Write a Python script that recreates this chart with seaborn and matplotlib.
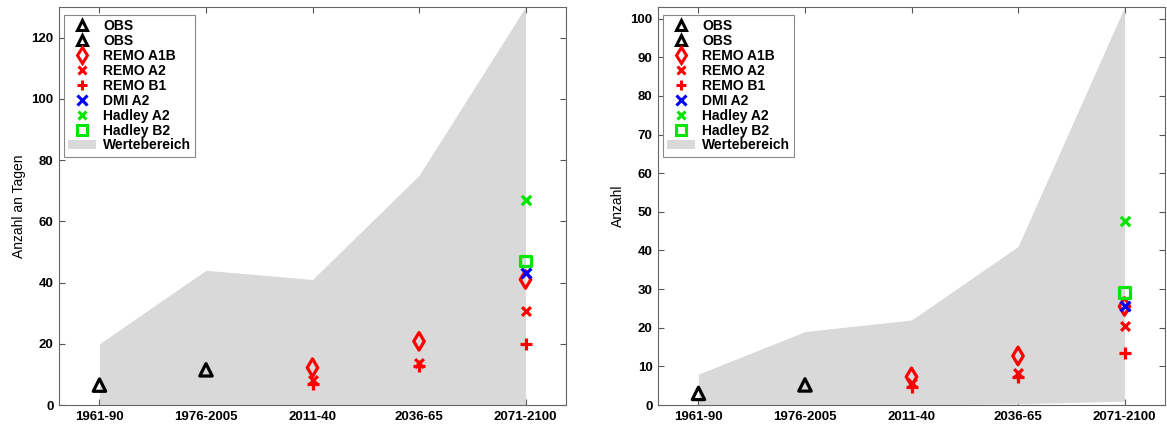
import numpy as np
import pandas as pd
import matplotlib
matplotlib.use("Agg")
import matplotlib.pyplot as plt
from matplotlib.lines import Line2D
from matplotlib.patches import Patch
import seaborn as sns

# Zeitraeume
periods = ["1961-90", "1976-2005", "2011-40", "2036-65", "2071-2100"]

# --- Linkes Diagramm: Anzahl an Tagen ---
left_range_low = [0, 0, 0, 0, 0]
left_range_high = [20, 44, 41, 75, 130]
left_obs1 = {"1961-90": 6.5}
left_obs2 = {"1976-2005": 11.5}
left_remo_a1b = {"2011-40": 12.2, "2036-65": 20.8, "2071-2100": 41}
left_remo_a2 = {"2011-40": 8.2, "2036-65": 13.6, "2071-2100": 30.8}
left_remo_b1 = {"2011-40": 6.8, "2036-65": 12.8, "2071-2100": 20}
left_dmi_a2 = {"2071-2100": 43}
left_hadley_a2 = {"2071-2100": 66.8}
left_hadley_b2 = {"2071-2100": 47}

# --- Rechtes Diagramm: Anzahl ---
right_range_low = [0, 0, 0, 0.3, 1]
right_range_high = [8, 19, 22, 41, 103]
right_obs1 = {"1961-90": 3}
right_obs2 = {"1976-2005": 5.2}
right_remo_a1b = {"2011-40": 7.3, "2036-65": 12.7, "2071-2100": 25.5}
right_remo_a2 = {"2011-40": 5.8, "2036-65": 8.3, "2071-2100": 20.4}
right_remo_b1 = {"2011-40": 4.6, "2036-65": 7.3, "2071-2100": 13.4}
right_dmi_a2 = {"2071-2100": 25.6}
right_hadley_a2 = {"2071-2100": 47.5}
right_hadley_b2 = {"2071-2100": 29.1}

RED, BLUE, GREEN, GRAY = "#ff0000", "#0000ff", "#00e600", "#d9d9d9"

sns.set_theme(style="white")
plt.rcParams["font.family"] = ["Liberation Sans", "DejaVu Sans"]
plt.rcParams["text.color"] = "black"
plt.rcParams["axes.labelcolor"] = "black"
plt.rcParams["xtick.labelcolor"] = "black"
plt.rcParams["ytick.labelcolor"] = "black"

# Darstellung je Reihe: (Beschriftung, Marker, Farbe, Flaeche, Legendengroesse, offen?)
styles = [
    ("OBS", "^", "black", 80, 7.5, True),
    ("OBS", "^", "black", 80, 7.5, True),
    ("REMO A1B", "d", RED, 80, 8, True),
    ("REMO A2", "x", RED, 40, 5.5, False),
    ("REMO B1", "+", RED, 80, 7.5, False),
    ("DMI A2", "x", BLUE, 50, 6.5, False),
    ("Hadley A2", "x", GREEN, 45, 5.5, False),
    ("Hadley B2", "s", GREEN, 60, 6.5, True),
]


def draw_panel(ax, low, high, series, ymax, yticks, ylabel):
    ax.fill_between(periods, low, high, color=GRAY, linewidth=0, zorder=1)
    handles = []
    for (label, marker, color, size, lsize, hollow), values in zip(styles, series):
        df = pd.DataFrame({"Zeitraum": list(values.keys()),
                           "Wert": list(values.values())})
        if hollow:
            sns.scatterplot(data=df, x="Zeitraum", y="Wert", ax=ax, marker=marker,
                            s=size, facecolors="none", edgecolor=color,
                            color=color, linewidth=2.3, zorder=3, legend=False)
            h = Line2D([], [], linestyle="", marker=marker, markersize=lsize,
                       markerfacecolor="none", markeredgecolor=color, markeredgewidth=2.2)
        else:
            sns.scatterplot(data=df, x="Zeitraum", y="Wert", ax=ax, marker=marker,
                            s=size, color=color, linewidth=2.3, zorder=3, legend=False)
            h = Line2D([], [], linestyle="", marker=marker, markersize=lsize,
                       color=color, markeredgewidth=2.2)
        handles.append((h, label))
    handles.append((Patch(facecolor=GRAY, edgecolor="none"), "Wertebereich"))

    ax.set_xlim(-0.38, 4.38)
    ax.set_ylim(0, ymax)
    ax.set_yticks(yticks)
    ax.set_xlabel("")
    ax.set_ylabel(ylabel, fontsize=10)
    for lab in ax.get_xticklabels() + ax.get_yticklabels():
        lab.set_fontweight("bold")
    ax.tick_params(axis="both", which="major", direction="in", length=4, width=0.8,
                   labelsize=9.5, top=True, right=True, bottom=True, left=True,
                   color="#555555", pad=4)
    for sp in ax.spines.values():
        sp.set_color("#666666")
        sp.set_linewidth(0.8)

    leg = ax.legend([h for h, _ in handles], [l for _, l in handles],
                    loc="upper left", bbox_to_anchor=(0.005, 0.988),
                    prop={"weight": "bold", "size": 10},
                    frameon=True, fancybox=False, edgecolor="#888888",
                    framealpha=1, labelspacing=0.07, handlelength=2.0,
                    handletextpad=0.5, borderpad=0.3, borderaxespad=0.2)
    leg.get_frame().set_linewidth(0.8)


fig = plt.figure(figsize=(11.67, 4.26), dpi=100)
ax1 = fig.add_axes([59 / 1167, 21 / 426, 507 / 1167, 398 / 426])
ax2 = fig.add_axes([658 / 1167, 21 / 426, 507 / 1167, 398 / 426])

draw_panel(ax1, left_range_low, left_range_high,
           [left_obs1, left_obs2, left_remo_a1b, left_remo_a2, left_remo_b1,
            left_dmi_a2, left_hadley_a2, left_hadley_b2],
           130, np.arange(0, 121, 20), "Anzahl an Tagen")
draw_panel(ax2, right_range_low, right_range_high,
           [right_obs1, right_obs2, right_remo_a1b, right_remo_a2, right_remo_b1,
            right_dmi_a2, right_hadley_a2, right_hadley_b2],
           103, np.arange(0, 101, 10), "Anzahl")

fig.savefig("out.png", dpi=100)
